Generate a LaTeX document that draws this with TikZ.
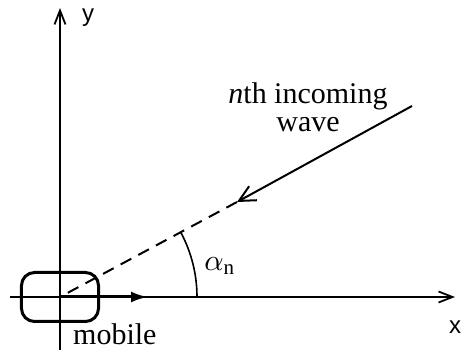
\documentclass[tikz,border=0pt]{standalone}
\usepackage{fontspec}
\setmainfont{Liberation Serif}
\setsansfont{Liberation Sans}
\usetikzlibrary{arrows.meta,positioning}

\begin{document}
\begin{tikzpicture}[x=1pt,y=1pt,
  axis/.style={line width=1.8pt, -{Straight Barb[length=14pt,width=11pt,line width=1.8pt]}},
  lbl/.style={inner sep=0pt, font=\fontsize{30}{28}\selectfont},
  axlbl/.style={inner sep=0pt, font=\sffamily\fontsize{24}{24}\selectfont}]
\useasboundingbox (-60,-55) rectangle (403,297);
\coordinate (O) at (0,0);
% axes
\coordinate (xa) at (-50,0);
\coordinate (xb) at (395,0);
\coordinate (ya) at (0,-53);
\coordinate (yb) at (0,289);
\draw[axis] (xa) -- (xb);
\draw[axis] (ya) -- (yb);
\node[axlbl] (xl) at (395,-30) {x};
\node[axlbl] (yl) at (28,279) {y};
% mobile and its motion
\node[draw, line width=3pt, rounded corners=13pt, minimum width=77pt, minimum height=49pt] (mob) at (O) {};
\node[lbl, anchor=base west] (mobl) at (13,-48) {mobile};
\coordinate (v) at (88,0);
\draw[line width=3pt, -{Latex[length=17pt,width=11pt]}] (O) -- (v);
% incoming wave
\coordinate (ws) at (352,191);
\coordinate (wt) at (177,95);
\draw[line width=2pt, -{Straight Barb[length=16pt,width=16pt,line width=2pt]}] (ws) -- (wt);
\draw[line width=2pt, dash pattern=on 12pt off 8pt] (wt) -- (O);
\node[lbl, align=center] (wl) at (248,190) {\textit{n}th incoming\\wave};
% angle
\draw[line width=1.6pt] (137,0) arc[start angle=0, end angle=28.2, radius=137];
\node[scale=3, inner sep=0pt] (al) at (160,31) {$\alpha_{\mathrm{n}}$};
\end{tikzpicture}
\end{document}
